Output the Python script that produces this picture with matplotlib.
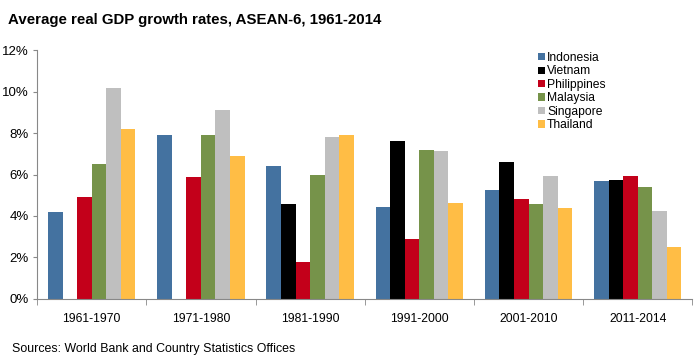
import numpy as np
import matplotlib
matplotlib.use("Agg")
import matplotlib.pyplot as plt
from matplotlib.ticker import FuncFormatter, FixedLocator

plt.rcParams["font.family"] = ["Liberation Sans", "DejaVu Sans"]

# data (average real GDP growth, %)
periods = ["1961-1970", "1971-1980", "1981-1990", "1991-2000", "2001-2010", "2011-2014"]
countries = ["Indonesia", "Vietnam", "Philippines", "Malaysia", "Singapore", "Thailand"]
indonesia   = [4.2, 7.9, 6.4, 4.45, 5.25, 5.7]
vietnam     = [0.0, 0.0, 4.6, 7.6, 6.6, 5.75]
philippines = [4.9, 5.9, 1.8, 2.9, 4.8, 5.95]
malaysia    = [6.5, 7.9, 6.0, 7.2, 4.6, 5.4]
singapore   = [10.15, 9.1, 7.8, 7.15, 5.95, 4.25]
thailand    = [8.2, 6.9, 7.9, 4.65, 4.4, 2.5]
colors = ["#4472A0", "#000000", "#C3001A", "#76934A", "#BFBFBF", "#FFBD45"]

series = [indonesia, vietnam, philippines, malaysia, singapore, thailand]

fig = plt.figure(figsize=(7.0, 3.58), dpi=100, facecolor="white")
ax = fig.add_axes([0.053, 0.165, 0.936, 0.695])

x = np.arange(len(periods))
n = len(series)
width = 0.8 / n
for i, (vals, name, col) in enumerate(zip(series, countries, colors)):
    ax.bar(x - 0.4 + width * (i + 0.5), vals, width, color=col, label=name,
           linewidth=0)

ax.set_xlim(-0.5, len(periods) - 0.5)
ax.set_ylim(0, 12)
ax.set_yticks(np.arange(0, 13, 2))
ax.yaxis.set_major_formatter(FuncFormatter(lambda v, p: f"{v:.0f}%"))
ax.set_xticks(x)
ax.set_xticklabels(periods, fontsize=8.7)
ax.xaxis.set_minor_locator(FixedLocator(np.arange(-0.5, len(periods), 1)))
ax.tick_params(axis="x", which="major", length=0, pad=10)
ax.tick_params(axis="x", which="minor", length=4, color="#888888")
ax.tick_params(axis="y", length=3, color="#888888", labelsize=9.5, pad=3)

for s in ["top", "right"]:
    ax.spines[s].set_visible(False)
for s in ["left", "bottom"]:
    ax.spines[s].set_color("#888888")

ax.legend(loc="upper left", bbox_to_anchor=(0.757, 1.012), frameon=False,
          fontsize=8.7, handlelength=0.55, handleheight=0.55, handletextpad=0.2,
          labelspacing=0.12, borderaxespad=0)

fig.text(0.012, 0.944, "Average real GDP growth rates, ASEAN-6, 1961-2014",
         fontsize=10.8, fontweight="bold", ha="left", va="center")
fig.text(0.017, 0.025, "Sources: World Bank and Country Statistics Offices",
         fontsize=8.9, ha="left", va="center")

fig.savefig("out.png", dpi=100, facecolor="white")
